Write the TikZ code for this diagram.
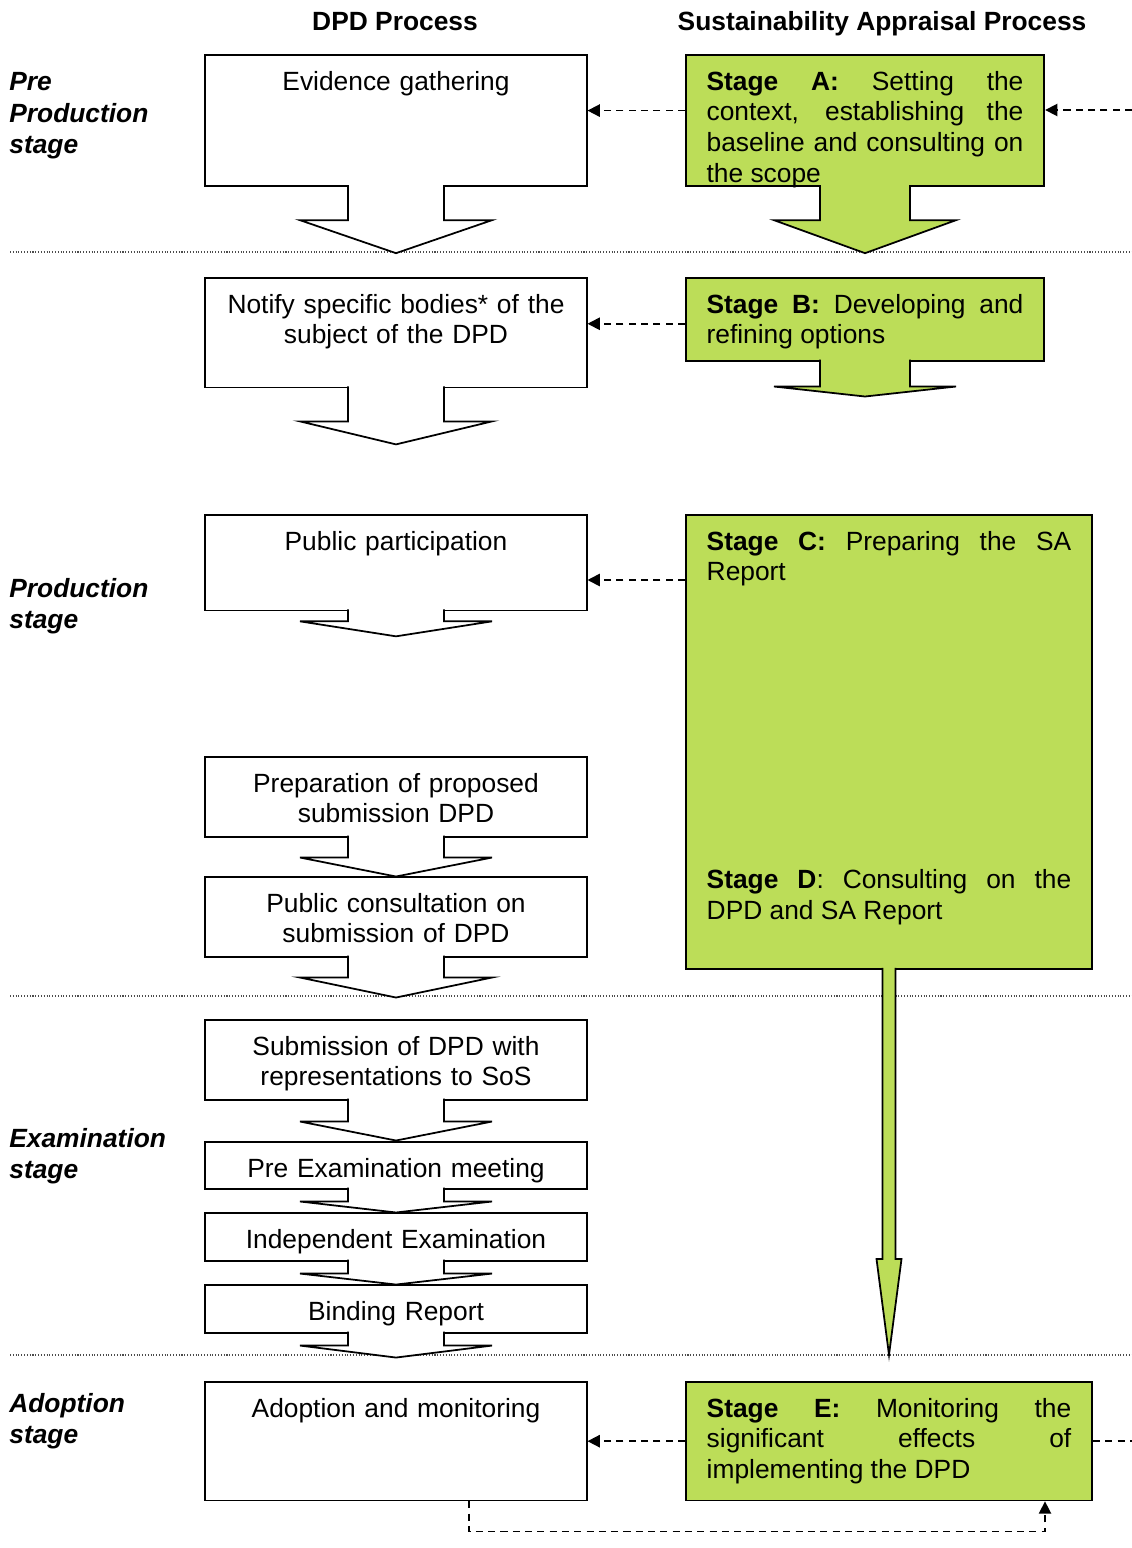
\documentclass[tikz,border=0pt]{standalone}
\usepackage{fontspec}
\setmainfont{Liberation Sans}
\usetikzlibrary{arrows.meta, calc}
\definecolor{sagreen}{RGB}{188,221,88}
\hyphenpenalty=10000
\tolerance=10000

\begin{document}
\begin{tikzpicture}[
    x=0.02cm, y=-0.02cm,
    font=\fontsize{15pt}{17.5pt}\selectfont,
    dpdbox/.style={
        rectangle,
        draw=black, line width=1pt,
        fill=white,
        anchor=north,
        text width=207pt,
        align=center,
        inner xsep=5pt, inner ysep=0pt,
        text height=20pt
    },
    sabox/.style={
        rectangle,
        draw=black, line width=1pt,
        fill=sagreen,
        anchor=north,
        align=justify,
        inner xsep=11.9pt, inner ysep=0pt,
        text height=20pt
    },
    head/.style={
        font=\fontsize{15pt}{17.5pt}\selectfont\bfseries,
        anchor=base,
        inner sep=0pt
    },
    stagelabel/.style={
        font=\fontsize{15pt}{17.8pt}\selectfont\bfseries\itshape,
        text width=150pt,
        align=left,
        anchor=base west,
        inner sep=0pt
    },
    dpdarrow/.style={
        draw=black, line width=1pt, fill=white
    },
    saarrow/.style={
        draw=black, line width=1pt, fill=sagreen
    },
    link/.style={
        line width=1pt, dash pattern=on 4pt off 3pt,
        -{Triangle[length=7pt,width=7pt]}
    },
    divider/.style={
        densely dotted, line width=0.6pt, black!70
    }
]
\useasboundingbox (0,0) rectangle (1132,1548);

% column headings
\node (dpdhead) [head] at (395,31) {DPD Process};
\node (sahead) [head] at (882,31) {Sustainability Appraisal Process};

% stage names on the left
\node (prelabel) [stagelabel] at (9,91) {Pre\\Production\\stage};
\node (prodlabel) [stagelabel] at (9,597) {Production\\stage};
\node (examlabel) [stagelabel] at (9,1147) {Examination\\stage};
\node (adoptlabel) [stagelabel] at (9,1412) {Adoption\\stage};

\foreach \y in {252, 996, 1355}
    \draw [divider] (10,\y) -- (1132,\y);

% DPD process
\node (evidence) [dpdbox, text depth=54.8pt] at (396,54) {Evidence gathering};
\node (notify) [dpdbox, text depth=42.4pt] at (396,277) {Notify specific bodies* of the\\subject of the DPD};
\node (public) [dpdbox, text depth=34.4pt] at (396,514) {Public participation};
\node (prepare) [dpdbox, text depth=25.4pt] at (396,756) {Preparation of proposed\\submission DPD};
\node (consult) [dpdbox, text depth=25.4pt] at (396,876) {Public consultation on\\submission of DPD};
\node (submit) [dpdbox, text depth=25.4pt] at (396,1019) {Submission of DPD with\\representations to SoS};
\node (preexam) [dpdbox, text depth=6.6pt] at (396,1141) {Pre Examination meeting};
\node (indep) [dpdbox, text depth=7.2pt] at (396,1212) {Independent Examination};
\node (binding) [dpdbox, text depth=7.2pt] at (396,1284) {Binding Report};
\node (adoption) [dpdbox, text depth=47.5pt] at (396,1381) {Adoption and monitoring};

\foreach \n/\s/\t in {evidence/33/66, notify/33/56, public/10/25, prepare/20/39,
                      consult/20/40, submit/21/40, preexam/12/23, indep/12/23, binding/12/24}
    \draw [dpdarrow, shift={(\n.south)}] (-48,-2) -- (-48,\s) -- (-96,\s) -- (0,\t)
        -- (96,\s) -- (48,\s) -- (48,-2);

% SA process
\node (stageA) [sabox, text width=180.3pt, text depth=54.8pt] at (865,54)
    {\textbf{Stage A:} Setting the context, establishing the baseline and consulting on the scope};
\node (stageB) [sabox, text width=180.3pt, text depth=27.1pt] at (865,277)
    {\textbf{Stage B:} Developing and refining options};
\node (stageCD) [sabox, text width=207.5pt, text depth=238.5pt] at (889,514)
    {\textbf{Stage C:} Preparing the SA Report\par\vspace{157.8pt}\textbf{Stage D}: Consulting on the DPD and SA Report};
\node (stageE) [sabox, text width=207.5pt, text depth=47.5pt] at (889,1381)
    {\textbf{Stage E:} Monitoring the\linebreak significant effects of\linebreak implementing the DPD};

\draw [saarrow, shift={(stageA.south)}] (-45,-2) -- (-45,33) -- (-91,33) -- (0,66)
    -- (91,33) -- (45,33) -- (45,-2);
\draw [saarrow, shift={(stageB.south)}] (-45,-2) -- (-45,25) -- (-91,25) -- (0,35)
    -- (91,25) -- (45,25) -- (45,-2);
\draw [saarrow, shift={(stageCD.south)}] (-6.5,-2) -- (-6.5,289) -- (-12.5,289) -- (0,385)
    -- (12.5,289) -- (6.5,289) -- (6.5,-2);

% links between the two processes
\coordinate (feedA) at (1132,110);
\coordinate (feedE) at (1132,1440);
\draw [link] ($(stageA.west)+(0,-10)$) coordinate (la) -- (la -| evidence.east);
\draw [link] (feedA) -- (feedA -| stageA.east);
\draw [link] ($(stageB.west)+(0,4.5)$) coordinate (lb) -- (lb -| notify.east);
\draw [link] ($(stageCD.north west)+(0,66)$) coordinate (lc) -- (lc -| public.east);
\draw [link] (stageE.west) -- (adoption.east);
\draw [link, -] (stageE.east) -- (stageE.east -| feedE);
\draw [link, line width=0.8pt] ($(adoption.south)+(73,0)$) -- ++(0,30) -| ($(stageE.south)+(156,0)$);

\end{tikzpicture}
\end{document}
